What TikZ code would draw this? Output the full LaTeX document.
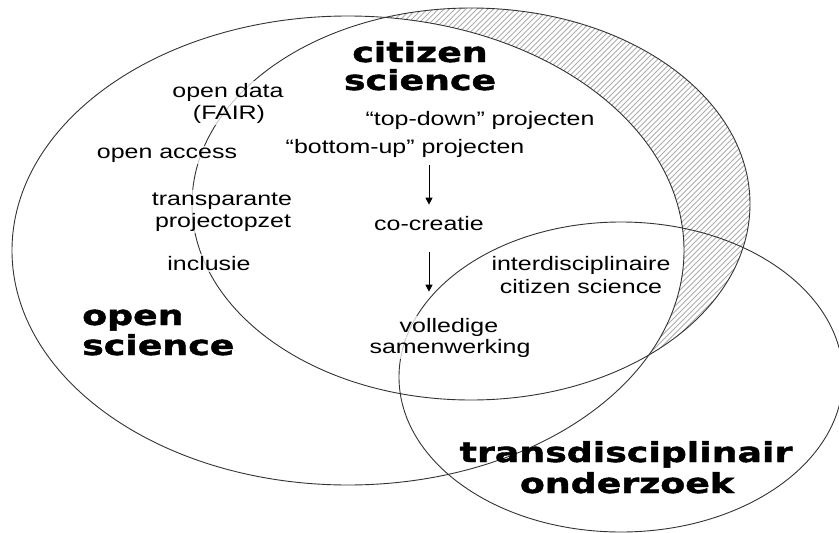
\documentclass[tikz,border=0pt]{standalone}
\usepackage{fontspec}
\usetikzlibrary{arrows.meta}
\newfontfamily\lab[FakeStretch=1.28]{Liberation Sans}
\newfontfamily\heavy[FakeStretch=1.32,BoldFeatures={FakeBold=1.6}]{DejaVu Sans}
\begin{document}
\begin{tikzpicture}[x=1pt,y=-1pt,
  lab/.style={font=\lab\fontsize{19.5}{22}\selectfont, anchor=base, inner sep=2pt,
    fill=white, fill opacity=0.72, text opacity=1},
  big/.style={font=\heavy\bfseries\fontsize{27.5}{30}\selectfont, anchor=base, inner sep=0pt},
  ring/.style={draw=black!80, line width=0.9pt},
  hatchline/.style={draw=black!32, line width=1pt},
  arr/.style={draw=black, line width=0.9pt, -{Triangle[length=7pt,width=7pt]}}]
\useasboundingbox (0,0) rectangle (839,533);
% hatched part: citizen science outside open science
\begin{scope}
  \clip (471,204) ellipse [x radius=279pt, y radius=196pt];
  \begin{scope}[even odd rule]
    \clip (-20,-20) rectangle (900,600) (348,250.5) ellipse [x radius=336pt, y radius=234.5pt];
    \foreach \k in {300,305.5,...,1500} \draw[hatchline] (\k-600,533) -- (\k,-67);
  \end{scope}
\end{scope}
% ellipses
\draw[ring] (348,250.5) ellipse [x radius=336pt, y radius=234.5pt];
\draw[ring] (471,204) ellipse [x radius=279pt, y radius=196pt];
\draw[ring] (621,377) ellipse [x radius=222pt, y radius=155pt];
% bold titles
\node[big] (cs1) at (420,62) {citizen};
\node[big] (cs2) at (420,90) {science};
\node[big, anchor=base west] (os1) at (82,325) {open};
\node[big, anchor=base west] (os2) at (82,355) {science};
\node[big] (tr1) at (626,462) {transdisciplinair};
\node[big] (tr2) at (627,493) {onderzoek};
% labels
\node[lab] (td) at (480,125) {“top-down” projecten};
\node[lab] (bu) at (405,153) {“bottom-up” projecten};
\node[lab] (cc) at (429,230) {co-creatie};
\node[lab] (vol1) at (449,332) {volledige};
\node[lab] (vol2) at (450,353) {samenwerking};
\node[lab] (int1) at (581,270) {interdisciplinaire};
\node[lab] (int2) at (581,293) {citizen science};
\node[lab] (od1) at (228,97) {open data};
\node[lab] (od2) at (229,119) {(FAIR)};
\node[lab] (oa) at (167,158) {open access};
\node[lab] (tp1) at (222,205) {transparante};
\node[lab] (tp2) at (223,227) {projectopzet};
\node[lab] (inc) at (209,270) {inclusie};
% arrows
\draw[arr, shorten <=6pt, shorten >=9pt] (cc.north |- bu.south) -- (cc.north);
\draw[arr, shorten <=20pt, shorten >=24pt] (cc.south) -- (cc.south |- vol1.north);
\end{tikzpicture}
\end{document}
